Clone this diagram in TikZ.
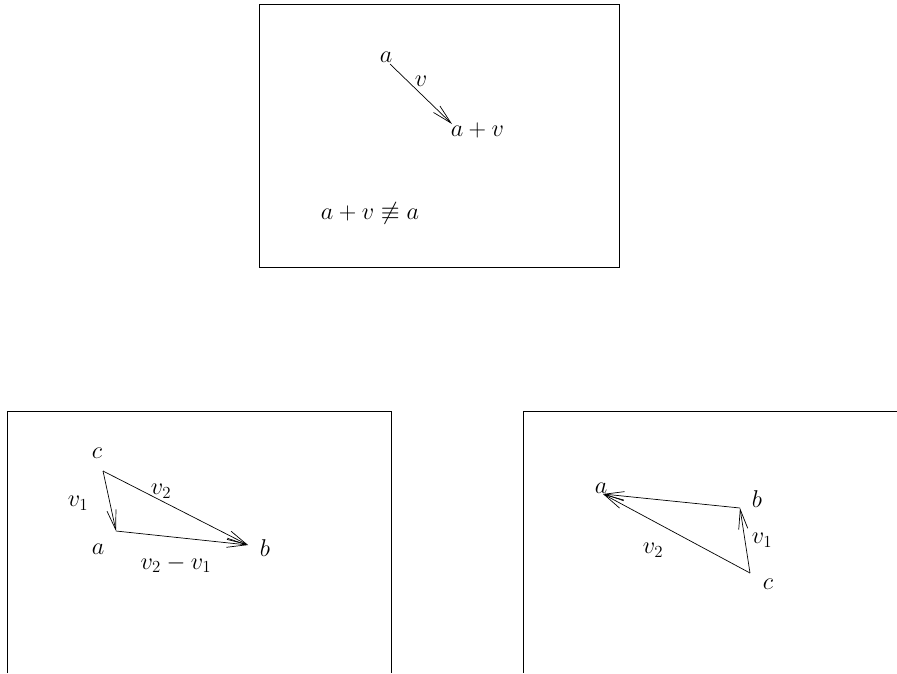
\documentclass[tikz,border=0pt]{standalone}
\usepackage{amssymb,amsmath}
\usepackage{tikz}
\usetikzlibrary{arrows.meta}

\begin{document}
\begin{tikzpicture}[x=0.025cm, y=-0.025cm, line width=0.5pt, font=\LARGE,
		vec/.style={-{Straight Barb[length=14pt,width=6.5pt,line width=0.5pt]}},
		lbl/.style={inner sep=1pt}]
	\useasboundingbox (0,0) rectangle (897,673);
	% frames
	\draw (259,4) rectangle (619,267);
	\draw (7,673) -- (7,411) -- (391,411) -- (391,673);
	\draw (897,411) -- (523,411) -- (523,673);
	% top: translation by v
	\coordinate (ta) at (390,64);
	\coordinate (tb) at (452,124);
	\node[lbl] (la) at (386,57) {$a$};
	\node[lbl, anchor=west] (lav) at (449,130) {$a + v$};
	\node[lbl] (lv) at (421,81) {$v$};
	\draw[vec] (ta) -- (tb);
	\node[lbl] (neq) at (370,213) {$a + v \not\equiv a$};
	% bottom left
	\coordinate (lc) at (103,471);
	\coordinate (lA) at (116,531);
	\coordinate (lB) at (248,545);
	\node[lbl] (lcl) at (97,453) {$c$};
	\node[lbl] (lal) at (98,549) {$a$};
	\node[lbl] (lbl) at (265,548) {$b$};
	\node[lbl] (lv1) at (78,503) {$v_1$};
	\node[lbl] (lv2) at (161,491) {$v_2$};
	\node[lbl] (lv21) at (176,564) {$v_2 - v_1$};
	\draw[vec] (lc) -- (lA);
	\draw[vec] (lc) -- (lB);
	\draw[vec] (lA) -- (lB);
	% bottom right
	\coordinate (rA) at (603,494);
	\coordinate (rB) at (740,508);
	\coordinate (rC) at (750,573);
	\node[lbl] (ral) at (601,488) {$a$};
	\node[lbl] (rbl) at (757,499) {$b$};
	\node[lbl] (rcl) at (768,584) {$c$};
	\node[lbl] (rv1) at (762,540) {$v_1$};
	\node[lbl] (rv2) at (653,550) {$v_2$};
	\draw[vec] (rB) -- (rA);
	\draw[vec] (rC) -- (rA);
	\draw[vec] (rC) -- (rB);
\end{tikzpicture}
\end{document}
